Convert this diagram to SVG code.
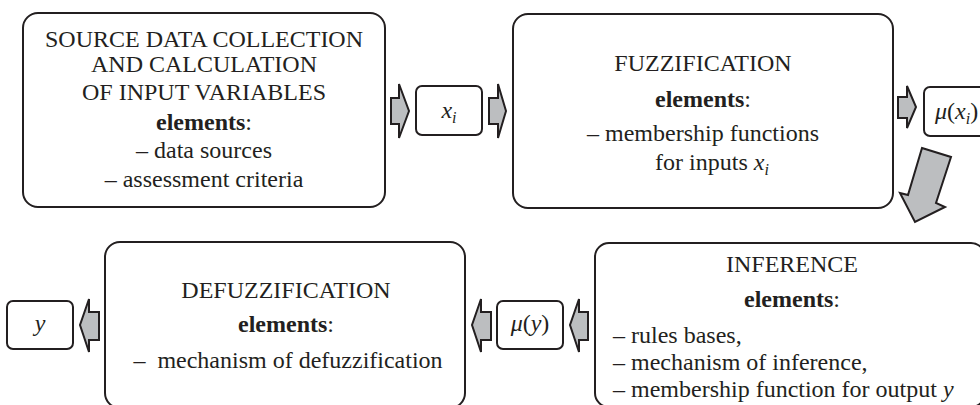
<svg xmlns="http://www.w3.org/2000/svg" width="980" height="405" viewBox="0 0 980 405">
<style>
.box{fill:#fff;stroke:#231f20;stroke-width:2}
.arr{fill:#bcbec0;stroke:#231f20;stroke-width:2;stroke-linejoin:miter}
.t text{font-size:24px;fill:#231f20}
.c{text-anchor:middle}
.b{font-weight:bold}
.i{font-style:italic}
.s{font-style:italic;font-size:16px}
</style>
<rect width="980" height="405" fill="#fff"/>
<g class="t" font-family="'Liberation Serif', 'DejaVu Serif', serif">
<g id="source">
<rect class="box" x="23" y="13" width="362" height="194" rx="15"/>
<text class="c" x="204" y="47">SOURCE DATA COLLECTION</text>
<text class="c" x="204" y="72">AND CALCULATION</text>
<text class="c" x="204" y="100">OF INPUT VARIABLES</text>
<text class="c" x="204" y="130"><tspan class="b">elements</tspan>:</text>
<text class="c" x="204" y="158">– data sources</text>
<text class="c" x="204" y="187">– assessment criteria</text>
</g>
<g id="xi">
<rect class="box" x="416" y="86" width="66" height="49" rx="6"/>
<text class="c" x="449" y="118"><tspan class="i">x</tspan><tspan class="s" dy="5">i</tspan></text>
</g>
<g id="fuzzification">
<rect class="box" x="513" y="14" width="380" height="194" rx="15"/>
<text class="c" x="703" y="71">FUZZIFICATION</text>
<text class="c" x="703" y="107"><tspan class="b">elements</tspan>:</text>
<text class="c" x="703" y="141">– membership functions</text>
<text class="c" x="712" y="170">for inputs <tspan class="i">x</tspan><tspan class="s" dy="5">i</tspan></text>
</g>
<g id="muxi">
<rect class="box" x="924" y="87" width="66" height="49" rx="6"/>
<text x="935" y="119"><tspan class="i">μ</tspan>(<tspan class="i">x</tspan><tspan class="s" dy="5">i</tspan><tspan dy="-5">)</tspan></text>
</g>
<g id="inference">
<rect class="box" x="595" y="243" width="390" height="164" rx="14"/>
<text class="c" x="792" y="272">INFERENCE</text>
<text class="c" x="792" y="307"><tspan class="b">elements</tspan>:</text>
<text x="613" y="343">– rules bases,</text>
<text x="613" y="370">– mechanism of inference,</text>
<text x="613" y="397">– membership function for output <tspan class="i">y</tspan></text>
</g>
<g id="muy">
<rect class="box" x="497" y="301" width="66" height="48" rx="6"/>
<text class="c" x="530" y="331"><tspan class="i">μ</tspan>(<tspan class="i">y</tspan>)</text>
</g>
<g id="defuzzification">
<rect class="box" x="105" y="242" width="360" height="166" rx="15"/>
<text class="c" x="286" y="298">DEFUZZIFICATION</text>
<text class="c" x="286" y="332"><tspan class="b">elements</tspan>:</text>
<text class="c" x="288" y="368" xml:space="preserve">–  mechanism of defuzzification</text>
</g>
<g id="y">
<rect class="box" x="7" y="301" width="66" height="48" rx="6"/>
<text class="c i" x="40" y="331">y</text>
</g>
</g>
<g id="connectors">
<polygon class="arr" points="391,98 399,98 399,84 409,111 399,138 399,124 391,124"/>
<polygon class="arr" points="489,98 498,98 498,84 506,111 498,138 498,124 489,124"/>
<polygon class="arr" points="898,97 907,97 907,86 916,107 907,128 907,118 898,118"/>
<polygon class="arr" points="922,148 951,157 936,203 945,207 915,222 900,193 908,195"/>
<polygon class="arr" points="588,312 579,312 579,299 570,325 579,352 579,340 588,340"/>
<polygon class="arr" points="491,312 481,312 481,299 472,325 481,352 481,340 491,340"/>
<polygon class="arr" points="99,312 89,312 89,299 80,325 89,352 89,340 99,340"/>
</g>
</svg>
